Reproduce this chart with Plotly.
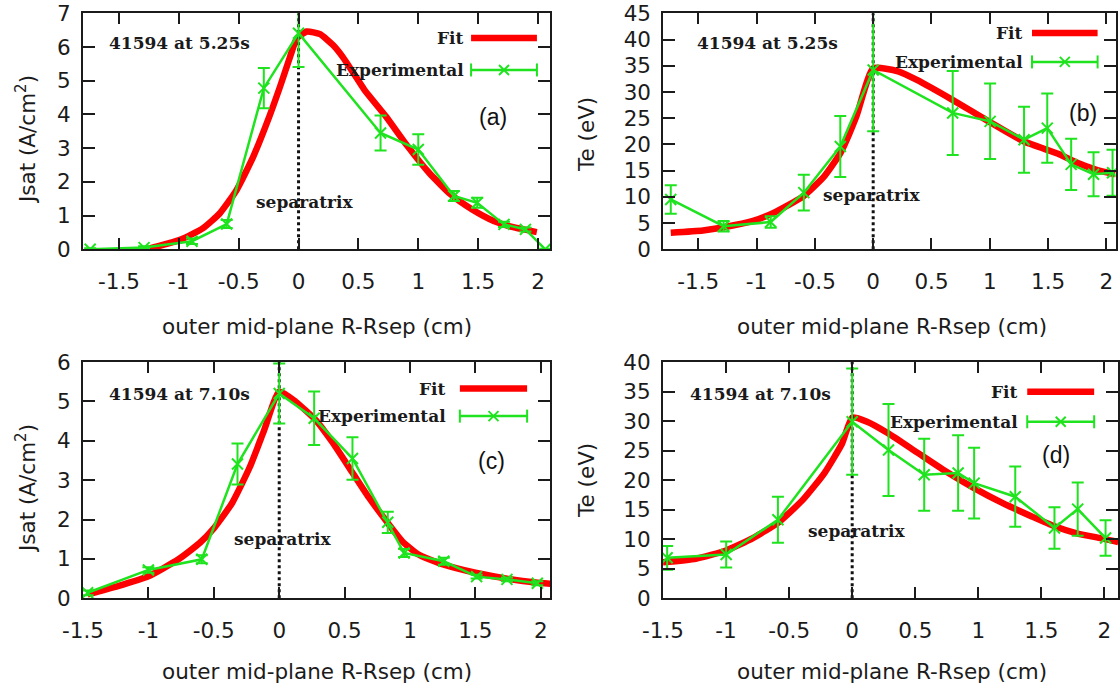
import plotly.graph_objects as go

# ---------------- data: outer mid-plane profiles, shot 41594 ----------------
# R - Rsep positions (cm) of the probe measurements
a_r = [-1.74, -1.29, -0.89, -0.60, -0.29, 0.0, 0.685, 1.0, 1.297, 1.492, 1.716, 1.895, 2.06]
b_r = [-1.736, -1.283, -0.879, -0.595, -0.282, 0.0, 0.682, 1.003, 1.294, 1.493, 1.698, 1.89, 2.053]
c_r = [-1.465, -1.0, -0.592, -0.319, 0.0, 0.267, 0.56, 0.83, 0.955, 1.258, 1.509, 1.741, 1.973]
d_r = [-1.467, -0.999, -0.589, 0.0, 0.288, 0.571, 0.84, 0.967, 1.293, 1.604, 1.788, 2.009]

# measured Jsat (A/cm^2) and Te (eV) with their uncertainties
a_jsat = [0.0, 0.05, 0.24, 0.75, 4.78, 6.41, 3.45, 2.96, 1.58, 1.38, 0.74, 0.59, 0.0]
a_jsat_err = [0.03, 0.04, 0.08, 0.12, 0.6, 1.0, 0.52, 0.45, 0.15, 0.15, 0.08, 0.06, 0.02]
b_te = [9.5, 4.4, 5.2, 10.8, 19.6, 34.2, 26.0, 24.4, 20.9, 23.1, 16.2, 14.3, 14.6]
b_te_err = [2.7, 1.0, 1.1, 3.4, 5.8, 11.7, 8.0, 7.2, 6.3, 6.6, 4.9, 4.2, 4.4]
c_jsat = [0.14, 0.72, 0.99, 3.41, 5.2, 4.57, 3.55, 1.93, 1.15, 0.94, 0.55, 0.48, 0.38]
c_jsat_err = [0.06, 0.07, 0.1, 0.52, 0.76, 0.68, 0.54, 0.27, 0.1, 0.09, 0.05, 0.05, 0.05]
d_te = [6.85, 7.4, 13.3, 29.9, 25.1, 20.9, 21.2, 19.5, 17.2, 11.9, 15.1, 10.2]
d_te_err = [2.0, 2.2, 3.9, 9.0, 7.8, 6.1, 6.4, 6.0, 5.1, 3.5, 4.5, 3.0]

# fitted profiles
a_fit_r = [-1.27, -0.99, -0.80, -0.657, -0.517, -0.378, -0.265, -0.154, -0.07, -0.014,
           0.07, 0.18, 0.29, 0.37, 0.46, 0.55, 0.73, 0.91, 1.09, 1.27, 1.45, 1.63, 1.81, 1.99]
a_fit = [0.0, 0.28, 0.62, 1.07, 1.76, 2.75, 3.74, 4.83, 5.72, 6.26,
         6.46, 6.38, 6.05, 5.7, 5.22, 4.73, 3.94, 3.06, 2.27, 1.63, 1.18, 0.84, 0.64, 0.51]
b_fit_r = [-1.736, -1.46, -1.28, -1.03, -0.85, -0.60, -0.42, -0.28, -0.145, 0.0,
           0.22, 0.375, 0.68, 0.99, 1.29, 1.60, 1.75, 1.91, 2.075]
b_fit = [3.17, 3.6, 4.2, 5.4, 7.0, 10.1, 13.9, 18.4, 25.3, 34.5,
         33.9, 32.3, 28.5, 24.4, 20.6, 18.1, 16.5, 15.2, 14.3]
c_fit_r = [-1.465, -1.233, -1.0, -0.77, -0.606, -0.497, -0.36, -0.224, -0.115, 0.0, 0.126,
           0.28, 0.405, 0.558, 0.685, 0.81, 0.94, 1.065, 1.218, 1.36, 1.5, 1.741, 1.96, 2.08]
c_fit = [0.1, 0.31, 0.56, 0.99, 1.41, 1.79, 2.42, 3.34, 4.27, 5.25, 4.99,
         4.52, 3.97, 3.2, 2.56, 2.0, 1.45, 1.11, 0.9, 0.76, 0.65, 0.5, 0.4, 0.37]
d_fit_r = [-1.5, -1.24, -1.0, -0.787, -0.589, -0.39, -0.22, -0.08, 0.0, 0.118,
           0.288, 0.514, 0.741, 0.967, 1.194, 1.42, 1.604, 1.788, 2.0, 2.11]
d_fit = [6.1, 6.7, 8.1, 10.2, 12.75, 16.7, 21.2, 26.2, 30.6, 29.9,
         27.9, 24.7, 21.5, 18.65, 16.1, 13.9, 12.2, 10.96, 10.06, 9.5]

separatrix_r = 0.0

# tick labels
r_ticks = [-1.5, -1.0, -0.5, 0.0, 0.5, 1.0, 1.5, 2.0]
r_tick_text = ["-1.5", "-1", "-0.5", "0", "0.5", "1", "1.5", "2"]
jsat7_ticks = [0, 1, 2, 3, 4, 5, 6, 7]
jsat6_ticks = [0, 1, 2, 3, 4, 5, 6]
te45_ticks = [0, 5, 10, 15, 20, 25, 30, 35, 40, 45]
te40_ticks = [0, 5, 10, 15, 20, 25, 30, 35, 40]

shot_labels = ["41594 at 5.25s", "41594 at 5.25s", "41594 at 7.10s", "41594 at 7.10s"]
panel_tags = ["(a)", "(b)", "(c)", "(d)"]
x_title = "outer mid-plane R-Rsep (cm)"
jsat_title = "Jsat (A/cm<sup>2</sup>)"
te_title = "Te (eV)"

# ---------------- styling ----------------
RED = "#ff0000"
GREEN = "#1ee31e"
INK = "#1b1b1b"
SANS = "DejaVu Sans, Verdana, sans-serif"
SERIF = "DejaVu Serif, serif"
W, H = 1120, 692

panels = [
    dict(r=a_r, v=a_jsat, e=a_jsat_err, fr=a_fit_r, fv=a_fit, xr=[-1.80, 2.10], yr=[0, 7],
         yt=jsat7_ticks, box=(83, 550, 13.3, 249.3),
         shot=(0.051, 0.873), sep=(0.475, 0.202), tag=(0.878, 0.562),
         key_right=0.82, key_fit_y=0.895, key_exp_y=0.76, key_line=(0.831, 0.972)),
    dict(r=b_r, v=b_te, e=b_te_err, fr=b_fit_r, fv=b_fit, xr=[-1.80, 2.08], yr=[0, 45],
         yt=te45_ticks, box=(663.3, 1115.7, 13.3, 249.3),
         shot=(0.07, 0.873), sep=(0.462, 0.23), tag=(0.928, 0.576),
         key_right=0.80, key_fit_y=0.917, key_exp_y=0.794, key_line=(0.815, 0.960)),
    dict(r=c_r, v=c_jsat, e=c_jsat_err, fr=c_fit_r, fv=c_fit, xr=[-1.50, 2.07], yr=[0, 6],
         yt=jsat6_ticks, box=(83, 550, 362, 598.3),
         shot=(0.051, 0.866), sep=(0.428, 0.249), tag=(0.874, 0.579),
         key_right=0.782, key_fit_y=0.8875, key_exp_y=0.771, key_line=(0.807, 0.951)),
    dict(r=d_r, v=d_te, e=d_te_err, fr=d_fit_r, fv=d_fit, xr=[-1.50, 2.11], yr=[0, 40],
         yt=te40_ticks, box=(663, 1118.3, 362, 598.3),
         shot=(0.056, 0.866), sep=(0.4255, 0.284), tag=(0.863, 0.607),
         key_right=0.785, key_fit_y=0.874, key_exp_y=0.747, key_line=(0.800, 0.947)),
]

fig = go.Figure()
layout = dict(width=W, height=H, autosize=False, margin=dict(l=0, r=0, t=0, b=0, pad=0),
              paper_bgcolor="white", plot_bgcolor="white", showlegend=False)
annotations = []
shapes = []

for i, p in enumerate(panels, start=1):
    sfx = "" if i == 1 else str(i)
    xa, ya = "x" + sfx, "y" + sfx
    x0, x1, ytop, ybot = p["box"]

    # fitted profile
    fig.add_trace(go.Scatter(x=p["fr"], y=p["fv"], mode="lines", xaxis=xa, yaxis=ya,
                             line=dict(color=RED, width=6.5, shape="spline", smoothing=0.5),
                             hoverinfo="skip"))
    # separatrix marker
    fig.add_trace(go.Scatter(x=[separatrix_r, separatrix_r], y=[p["yr"][0], p["yr"][1]],
                             mode="lines", xaxis=xa, yaxis=ya,
                             line=dict(color="#111111", width=3, dash="dot"), hoverinfo="skip"))
    # measurements
    fig.add_trace(go.Scatter(x=p["r"], y=p["v"], mode="lines+markers", xaxis=xa, yaxis=ya,
                             line=dict(color=GREEN, width=2.5),
                             marker=dict(symbol="x-thin", size=11, color=GREEN,
                                         line=dict(width=2, color=GREEN)),
                             error_y=dict(type="data", array=p["e"], color=GREEN,
                                          thickness=2, width=6)))

    axis_font = dict(family=SANS, size=21.5, color=INK)
    layout["xaxis" + sfx] = dict(
        domain=[x0 / W, x1 / W], range=p["xr"], anchor=ya, automargin=False,
        tickmode="array", tickvals=r_ticks, ticktext=r_tick_text,
        ticks="inside", ticklen=11, tickwidth=2, tickcolor=INK,
        showline=True, linewidth=2, linecolor=INK, mirror="ticks",
        showgrid=False, zeroline=False, tickfont=axis_font, ticklabelstandoff=12)
    layout["yaxis" + sfx] = dict(
        domain=[1 - ybot / H, 1 - ytop / H], range=p["yr"], anchor=xa, automargin=False,
        tickmode="array", tickvals=p["yt"], ticktext=[str(t) for t in p["yt"]],
        ticks="inside", ticklen=12, tickwidth=2, tickcolor=INK,
        showline=True, linewidth=2, linecolor=INK, mirror="ticks",
        showgrid=False, zeroline=False, tickfont=axis_font, ticklabelstandoff=6)

    dx, dy = xa + " domain", ya + " domain"
    serif_bold = dict(family=SERIF, size=17, color="#1a1a1a", weight="bold")

    annotations.append(dict(text=shot_labels[i - 1], xref=dx, yref=dy,
                            x=p["shot"][0], y=p["shot"][1], xanchor="left", yanchor="middle",
                            showarrow=False, font=serif_bold))
    annotations.append(dict(text="separatrix", xref=dx, yref=dy,
                            x=p["sep"][0], y=p["sep"][1], xanchor="center", yanchor="middle",
                            showarrow=False, font=serif_bold))
    annotations.append(dict(text=panel_tags[i - 1], xref=dx, yref=dy,
                            x=p["tag"][0], y=p["tag"][1], xanchor="center", yanchor="middle",
                            showarrow=False,
                            font=dict(family="Liberation Sans, Arial, sans-serif", size=23,
                                      color="#111111")))
    # key
    annotations.append(dict(text="Fit", xref=dx, yref=dy, x=p["key_right"], y=p["key_fit_y"],
                            xanchor="right", yanchor="middle", showarrow=False, font=serif_bold))
    annotations.append(dict(text="Experimental", xref=dx, yref=dy, x=p["key_right"],
                            y=p["key_exp_y"], xanchor="right", yanchor="middle",
                            showarrow=False, font=serif_bold))
    kl0, kl1 = p["key_line"]
    shapes.append(dict(type="line", xref=dx, yref=dy, x0=kl0, x1=kl1,
                       y0=p["key_fit_y"], y1=p["key_fit_y"], line=dict(color=RED, width=6.5)))
    ky = p["key_exp_y"]
    shapes.append(dict(type="line", xref=dx, yref=dy, x0=kl0, x1=kl1, y0=ky, y1=ky,
                       line=dict(color=GREEN, width=2.5)))
    cap = 6.5 / (ybot - ytop)
    for cx in (kl0, kl1):
        shapes.append(dict(type="line", xref=dx, yref=dy, x0=cx, x1=cx, y0=ky - cap, y1=ky + cap,
                           line=dict(color=GREEN, width=2)))
    xm = (kl0 + kl1) / 2
    hx = 5.0 / (x1 - x0)
    hy = 5.0 / (ybot - ytop)
    shapes.append(dict(type="line", xref=dx, yref=dy, x0=xm - hx, x1=xm + hx,
                       y0=ky - hy, y1=ky + hy, line=dict(color=GREEN, width=2)))
    shapes.append(dict(type="line", xref=dx, yref=dy, x0=xm - hx, x1=xm + hx,
                       y0=ky + hy, y1=ky - hy, line=dict(color=GREEN, width=2)))

# axis titles
title_font = dict(family=SANS, size=21.5, color=INK)
for (tx, ty, text, ang) in [
    (26, 140, jsat_title, -90), (586, 135, te_title, -90),
    (26, 489, jsat_title, -90), (586, 481, te_title, -90),
    (317, 326, x_title, 0), (892, 326, x_title, 0),
    (317, 671, x_title, 0), (892, 671, x_title, 0),
]:
    annotations.append(dict(text=text, xref="paper", yref="paper", x=tx / W, y=1 - ty / H,
                            xanchor="center", yanchor="middle", textangle=ang,
                            showarrow=False, font=title_font))

layout["annotations"] = annotations
layout["shapes"] = shapes
fig.update_layout(**layout)
fig.write_html("out.html")
